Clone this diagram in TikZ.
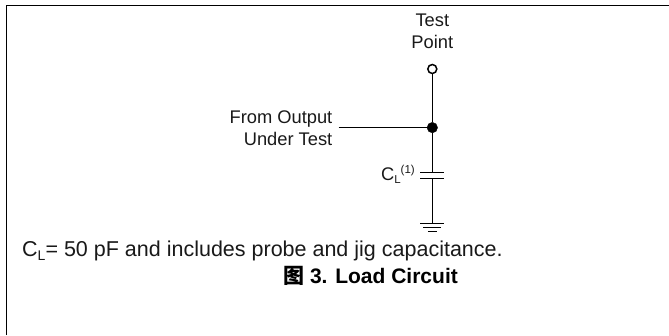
\documentclass[tikz,border=0pt]{standalone}
\usepackage{fontspec}
\setmainfont{Liberation Sans}
\newfontfamily\cjk{Noto Sans CJK SC}
\newcommand{\subL}[2]{\raisebox{-#1pt}{\fontsize{#2}{#2}\selectfont L}}
\tikzset{
  wire/.style={line width=1.15pt,black},
  frameline/.style={line width=1.4pt,black},
  lab/.style={inner sep=0pt,font=\fontsize{18.3}{22}\selectfont,text=black!90},
  dotfill/.style={circle,fill=black,draw=black,inner sep=0pt,minimum size=10.5pt},
  dotopen/.style={circle,fill=white,draw=black,line width=1.5pt,inner sep=0pt,minimum size=9pt}
}
\begin{document}
\begin{tikzpicture}[x=1pt,y=-1pt]
\useasboundingbox (0,0) rectangle (669,335);
\coordinate (cnrb) at (6.5,335);
\coordinate (cnrt) at (6.5,5.5);
\coordinate (cnrr) at (669,5.5);
\draw[frameline] (cnrb) -- (cnrt) -- (cnrr);
\node[lab,align=center,anchor=base] (tp) at (432.3,48) {Test\\Point};
\node[dotopen] (open) at (432.3,69) {};
\node[dotfill] (junc) at (432.3,127.6) {};
\coordinate (from) at (338.5,127.6);
\coordinate (capT) at (432.3,172.7);
\coordinate (capB) at (432.3,178.4);
\coordinate (gnd) at (432.3,223.7);
\draw[wire] (open) -- (junc);
\draw[wire] (from) -- (junc);
\draw[wire] (junc) -- (capT);
\draw[wire] (capB) -- (gnd);
\draw[wire] ([xshift=-12pt]capT) -- ([xshift=12pt]capT);
\draw[wire] ([xshift=-12pt]capB) -- ([xshift=12pt]capB);
\draw[wire] ([xshift=-12pt]gnd) -- ([xshift=12pt]gnd);
\draw[wire] ([xshift=-9pt,yshift=-4pt]gnd) -- ([xshift=9pt,yshift=-4pt]gnd);
\draw[wire] ([xshift=-4.5pt,yshift=-8pt]gnd) -- ([xshift=4.5pt,yshift=-8pt]gnd);
\node[lab,align=right,anchor=base east] (ft) at (332.5,145) {From Output\\Under Test};
\node[lab,anchor=base west] (cl) at (381,180.7) {C\subL{3}{11.5}};
\node[inner sep=0pt,anchor=base west,font=\fontsize{11.5}{13}\selectfont,text=black!90] (cln) at (400.5,173) {(1)};
\node[inner sep=0pt,anchor=base west,font=\fontsize{21.5}{25}\selectfont,text=black!90] (note) at (22,256) {C\subL{4.5}{14}= 50 pF and includes probe and jig capacitance.};
\node[inner sep=0pt,anchor=base west,font=\fontsize{21}{25}\selectfont\bfseries,text=black] (cap) at (283,283) {{\cjk\bfseries 图} 3. Load Circuit};
\end{tikzpicture}
\end{document}
